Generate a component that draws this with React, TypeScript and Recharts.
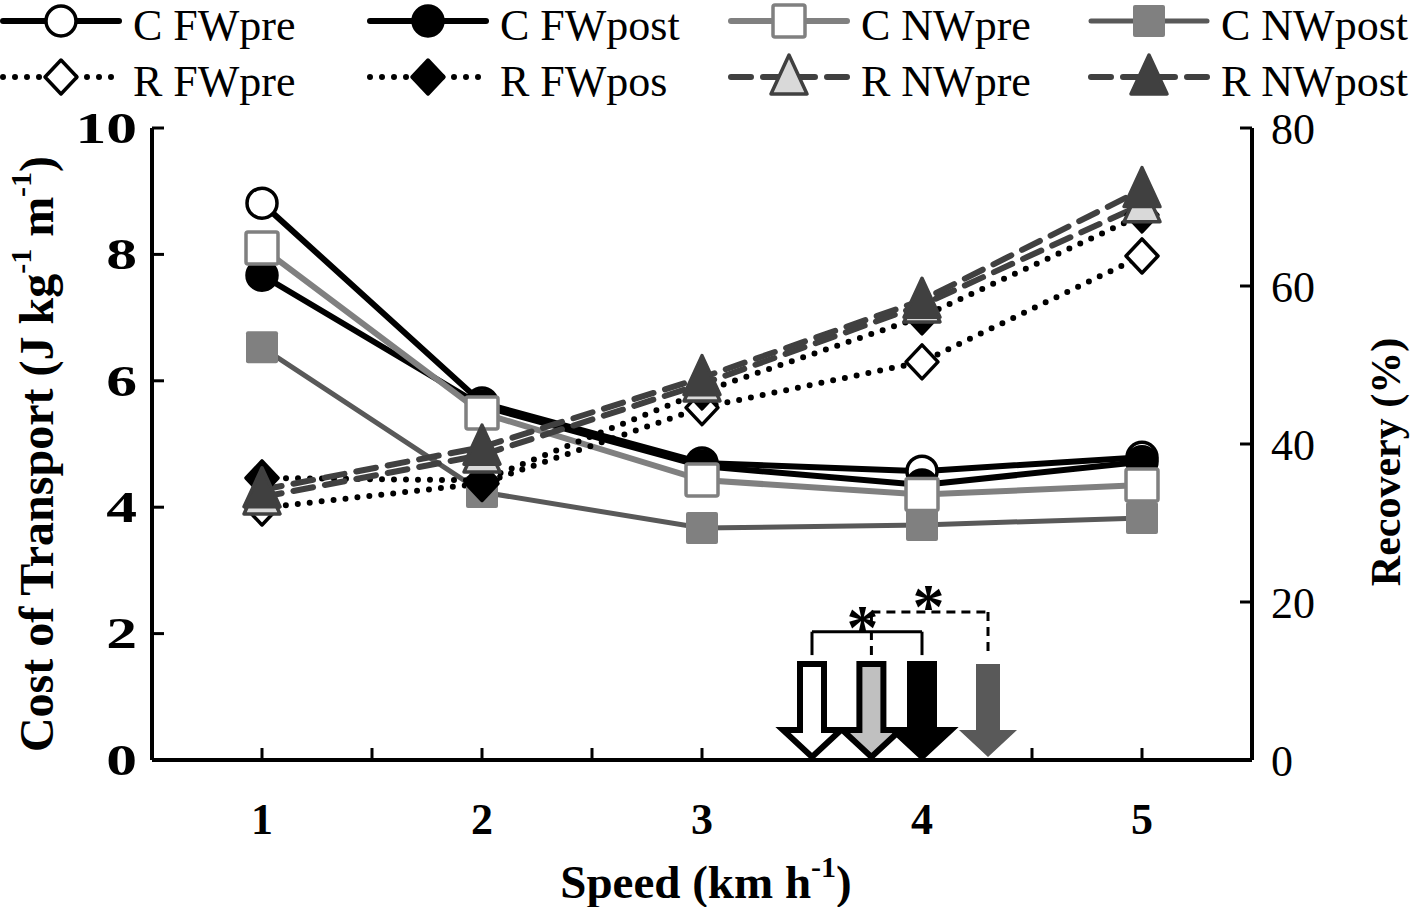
import { ComposedChart, Line, Scatter, XAxis, YAxis, ReferenceLine } from 'recharts'

const speeds = [1, 2, 3, 4, 5]
const cFWpre = [8.81, 5.65, 4.7, 4.57, 4.79]
const cFWpost = [7.67, 5.6, 4.65, 4.35, 4.72]
const cNWpre = [8.1, 5.49, 4.43, 4.2, 4.35]
const cNWpost = [6.53, 4.24, 3.67, 3.72, 3.83]
const rFWpre = [31.9, 35.0, 44.6, 50.4, 63.8]
const rFWpos = [35.7, 35.4, 46.6, 56.1, 69.0]
const rNWpre = [33.3, 38.6, 47.6, 57.6, 70.3]
const rNWpost = [34.2, 39.6, 48.4, 58.2, 72.2]

const xTicks = [1, 1.5, 2, 2.5, 3, 3.5, 4, 4.5, 5]
const leftTicks = [0, 2, 4, 6, 8, 10]
const rightTicks = [0, 20, 40, 60, 80]

// optimal speed arrows (speed) and the brackets/asterisks above them
const arrowSpeeds = [3.5, 3.77, 4.0, 4.3]
const arrowFills = ['#ffffff', '#c0c0c0', '#000000', '#595959']
const arrowStrokes = ['#000000', '#000000', '#000000', 'none']
const bracketSolid = [[3.5, 1.66], [3.5, 2.03], [4.0, 2.03], [4.0, 1.66]]
const bracketDashed = [[3.77, 1.66], [3.77, 2.34], [4.3, 2.34], [4.3, 1.66]]
const starSpeeds = [3.73, 4.03]
const starLevels = [2.26, 2.6]

const FONT = '"Liberation Serif", "Times New Roman", serif'

type Kind = 'circle' | 'square' | 'diamond' | 'triangle'
type Series = {
  key: string; name: string; values: number[]; axis: 'left' | 'right'
  line: string; width: number; dash?: string; kind: Kind; fill: string; stroke: string
}

const series: Series[] = [
  { key: 'cFWpre', name: 'C FWpre', values: cFWpre, axis: 'left', line: '#000', width: 6, kind: 'circle', fill: '#fff', stroke: '#000' },
  { key: 'cFWpost', name: 'C FWpost', values: cFWpost, axis: 'left', line: '#000', width: 6, kind: 'circle', fill: '#000', stroke: '#000' },
  { key: 'cNWpre', name: 'C NWpre', values: cNWpre, axis: 'left', line: '#808080', width: 6, kind: 'square', fill: '#fff', stroke: '#808080' },
  { key: 'cNWpost', name: 'C NWpost', values: cNWpost, axis: 'left', line: '#595959', width: 5, kind: 'square', fill: '#808080', stroke: 'none' },
  { key: 'rFWpre', name: 'R FWpre', values: rFWpre, axis: 'right', line: '#000', width: 6, dash: '0 12', kind: 'diamond', fill: '#fff', stroke: '#000' },
  { key: 'rFWpos', name: 'R FWpos', values: rFWpos, axis: 'right', line: '#000', width: 6, dash: '0 12', kind: 'diamond', fill: '#000', stroke: '#000' },
  { key: 'rNWpre', name: 'R NWpre', values: rNWpre, axis: 'right', line: '#404040', width: 6, dash: '20 12', kind: 'triangle', fill: '#d9d9d9', stroke: '#404040' },
  { key: 'rNWpost', name: 'R NWpost', values: rNWpost, axis: 'right', line: '#404040', width: 6, dash: '20 12', kind: 'triangle', fill: '#404040', stroke: '#404040' },
]

const data = speeds.map((speed, i) => {
  const row: Record<string, number> = { speed }
  series.forEach((s) => { row[s.key] = s.values[i] })
  return row
})
const arrows = arrowSpeeds.map((speed, i) => ({ speed, base: 0, fill: arrowFills[i], stroke: arrowStrokes[i] }))
const stars = starSpeeds.map((speed, i) => ({ speed, level: starLevels[i] }))

function Marker({ kind, cx, cy, fill, stroke }: { kind: Kind; cx: number; cy: number; fill: string; stroke: string }) {
  const sw = stroke === 'none' ? 0 : 3.5
  if (kind === 'circle') return <circle cx={cx} cy={cy} r={15} fill={fill} stroke={stroke} strokeWidth={sw} />
  if (kind === 'square') return <rect x={cx - 16} y={cy - 16} width={32} height={32} rx={2} fill={fill} stroke={stroke} strokeWidth={sw} />
  if (kind === 'diamond') return <polygon points={`${cx},${cy - 17} ${cx + 16},${cy} ${cx},${cy + 17} ${cx - 16},${cy}`} fill={fill} stroke={stroke} strokeWidth={sw} strokeLinejoin="round" />
  return <polygon points={`${cx},${cy - 22} ${cx + 18},${cy + 17} ${cx - 18},${cy + 17}`} fill={fill} stroke={stroke} strokeWidth={sw} strokeLinejoin="round" />
}

function Arrow(props: any) {
  const { cx, cy, payload } = props
  const hw = 12, hh = 30, head = 29, len = 96
  const pts = [
    [cx - hw, cy - len], [cx + hw, cy - len], [cx + hw, cy - hh], [cx + head, cy - hh],
    [cx, cy - 3], [cx - head, cy - hh], [cx - hw, cy - hh],
  ].map((p) => p.join(',')).join(' ')
  return <polygon points={pts} fill={payload.fill} stroke={payload.stroke} strokeWidth={payload.stroke === 'none' ? 0 : 6} strokeLinejoin="miter" />
}

function Star(props: any) {
  const { cx, cy } = props
  return <text x={cx} y={cy + 32} textAnchor="middle" fontFamily={FONT} fontWeight="bold" fontSize={64}>*</text>
}

function LeftTick(props: any) {
  const { x, y, payload } = props
  return (
    <text transform={`translate(${x},${y}) scale(1.4,1)`} x={0} y={0} textAnchor="end" dominantBaseline="central"
      fontFamily={FONT} fontWeight="bold" fontSize={44} fill="#000">{payload.value}</text>
  )
}

function LeftTitle(props: any) {
  const { viewBox } = props
  const cx = viewBox.x + 36
  const cy = viewBox.y + viewBox.height / 2 + 10
  return (
    <text transform={`rotate(-90, ${cx}, ${cy})`} x={cx} y={cy} textAnchor="middle" dominantBaseline="central"
      fontFamily={FONT} fontWeight="bold" fontSize={48} fill="#000">
      Cost of Transport (J kg<tspan dy={-16} fontSize={30}>-1</tspan><tspan dy={16}> m</tspan><tspan dy={-16} fontSize={30}>-1</tspan><tspan dy={16}>)</tspan>
    </text>
  )
}

function RightTitle(props: any) {
  const { viewBox } = props
  const cx = viewBox.x + 134
  const cy = viewBox.y + viewBox.height / 2 + 18
  return (
    <text transform={`rotate(-90, ${cx}, ${cy})`} x={cx} y={cy} textAnchor="middle" dominantBaseline="central"
      fontFamily={FONT} fontWeight="bold" fontSize={42} fill="#000">Recovery (%)</text>
  )
}

function XTitle(props: any) {
  const { viewBox } = props
  const cx = viewBox.x + viewBox.width / 2 + 4
  const cy = viewBox.y + 122
  return (
    <text x={cx} y={cy} textAnchor="middle" dominantBaseline="central" fontFamily={FONT} fontWeight="bold" fontSize={47} fill="#000">
      Speed (km h<tspan dy={-16} fontSize={30}>-1</tspan><tspan dy={16}>)</tspan>
    </text>
  )
}

const legendCols = [0, 367, 728, 1088]
const legendRows = [21, 77]

function LegendBox() {
  return (
    <svg width={1421} height={110} style={{ position: 'absolute', left: 0, top: 0 }}>
      {series.map((s, i) => {
        const x = legendCols[i % 4]
        const y = legendRows[Math.floor(i / 4)]
        return (
          <g key={s.key}>
            <line x1={x + 3} x2={x + 119} y1={y} y2={y} stroke={s.line} strokeWidth={s.width}
              strokeDasharray={s.dash} strokeLinecap="round" />
            <Marker kind={s.kind} cx={x + 61} cy={y} fill={s.fill} stroke={s.stroke} />
            <text x={x + 133} y={y + 19} fontFamily={FONT} fontSize={44} fill="#000">{s.name}</text>
          </g>
        )
      })}
    </svg>
  )
}

const segs = (pts: number[][]) => pts.slice(1).map((p, i) => [{ x: pts[i][0], y: pts[i][1] }, { x: p[0], y: p[1] }])

export default function App() {
  return (
    <div style={{ position: 'absolute', left: 0, top: 0, width: 1421, height: 907, background: '#fff' }}>
      <ComposedChart width={1421} height={907} data={data} margin={{ top: 128, right: 0, bottom: 0, left: 0 }}>
        <XAxis dataKey="speed" type="number" domain={[0.5, 5.5]} ticks={xTicks} allowDataOverflow
          tickFormatter={(v) => (Number.isInteger(v) ? String(v) : '')} height={147}
          axisLine={{ stroke: '#000', strokeWidth: 4 }} tickLine={{ stroke: '#000', strokeWidth: 3 }}
          tickSize={-12} tickMargin={55} interval={0}
          tick={{ fill: '#000', fontFamily: FONT, fontWeight: 'bold', fontSize: 44 }}
          label={<XTitle />} />
        <YAxis yAxisId="left" domain={[0, 10]} ticks={leftTicks} width={152} interval={0}
          axisLine={{ stroke: '#000', strokeWidth: 4 }} tickLine={{ stroke: '#000', strokeWidth: 3 }}
          tickSize={-12} tickMargin={27}
          tick={<LeftTick />}
          label={<LeftTitle />} />
        <YAxis yAxisId="right" orientation="right" domain={[0, 80]} ticks={rightTicks} width={169} interval={0}
          axisLine={{ stroke: '#000', strokeWidth: 4 }} tickLine={{ stroke: '#000', strokeWidth: 3 }}
          tickSize={-12} tickMargin={31}
          tick={{ fill: '#000', fontFamily: FONT, fontSize: 44 }}
          label={<RightTitle />} />
        {series.map((s) => (
          <Line key={s.key} yAxisId={s.axis} dataKey={s.key} name={s.name} type="linear" isAnimationActive={false}
            stroke={s.line} strokeWidth={s.width} strokeDasharray={s.dash} strokeLinecap="round"
            dot={(p: any) => <Marker key={`${s.key}-${p.index}`} kind={s.kind} cx={p.cx} cy={p.cy} fill={s.fill} stroke={s.stroke} />}
            activeDot={false} />
        ))}
        {segs(bracketSolid).map((seg, i) => (
          <ReferenceLine key={`bs${i}`} yAxisId="left" segment={seg} stroke="#000" strokeWidth={3} ifOverflow="visible" />
        ))}
        {segs(bracketDashed).map((seg, i) => (
          <ReferenceLine key={`bd${i}`} yAxisId="left" segment={seg} stroke="#000" strokeWidth={3} strokeDasharray="9 6" ifOverflow="visible" />
        ))}
        <Scatter yAxisId="left" data={arrows} dataKey="base" shape={<Arrow />} isAnimationActive={false} />
        <Scatter yAxisId="left" data={stars} dataKey="level" shape={<Star />} isAnimationActive={false} />
      </ComposedChart>
      <LegendBox />
    </div>
  )
}
